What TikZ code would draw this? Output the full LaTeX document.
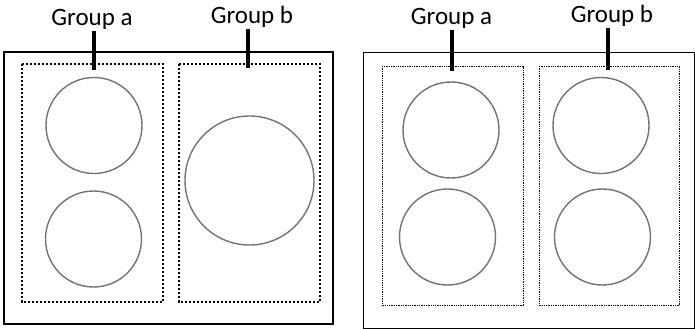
\documentclass[tikz,border=0pt]{standalone}
\usepackage{fontspec}
\setmainfont{Carlito}
\begin{document}
\begin{tikzpicture}[x=1pt,y=-1pt,
  circ/.style={circle,draw=black!55,line width=1.4pt,inner sep=0pt,minimum size=#1},
  grp/.style={draw=black,line width=1.1pt,dash pattern=on 2.4pt off 1.6pt},
  grpthin/.style={draw=black,line width=0.9pt,dash pattern=on 1.3pt off 1pt},
  lbl/.style={font=\fontsize{25}{29}\selectfont,text=black,inner sep=0pt,anchor=base},
  tick/.style={line width=3.2pt,black}]
\useasboundingbox (0,0) rectangle (695,329);
% left panel
\draw[line width=1.6pt] (4,52) rectangle (333,324);
\draw[grp] (22,64) rectangle (163,302);
\draw[grp] (179,64) rectangle (320,302);
\node[circ=96pt] (la1) at (94,125.5) {};
\node[circ=96pt] (la2) at (93.5,239) {};
\node[circ=129pt] (lb1) at (249.5,180.5) {};
\node[lbl] (lga) at (92,26) {Group a};
\node[lbl] (lgb) at (252,23.5) {Group b};
\coordinate (lta) at (94,70);
\coordinate (ltb) at (248,68);
\draw[tick] (lga.south -| lta) ++(0,1) -- (lta);
\draw[tick] (lgb.south -| ltb) ++(0,1) -- (ltb);
% right panel
\draw[line width=1pt] (363,53) rectangle (694,328);
\draw[grpthin] (382,66) rectangle (523,305);
\draw[grpthin] (539,66) rectangle (679,305);
\node[circ=96pt] (ra1) at (451,130) {};
\node[circ=96pt] (ra2) at (447.5,237) {};
\node[circ=96pt] (rb1) at (601,125.5) {};
\node[circ=96pt] (rb2) at (602.5,237) {};
\node[lbl] (rga) at (451.5,25) {Group a};
\node[lbl] (rgb) at (612,22.5) {Group b};
\coordinate (rta) at (452,71);
\coordinate (rtb) at (608,70);
\draw[tick] (rga.south -| rta) ++(0,1) -- (rta);
\draw[tick] (rgb.south -| rtb) ++(0,1) -- (rtb);
\end{tikzpicture}
\end{document}
